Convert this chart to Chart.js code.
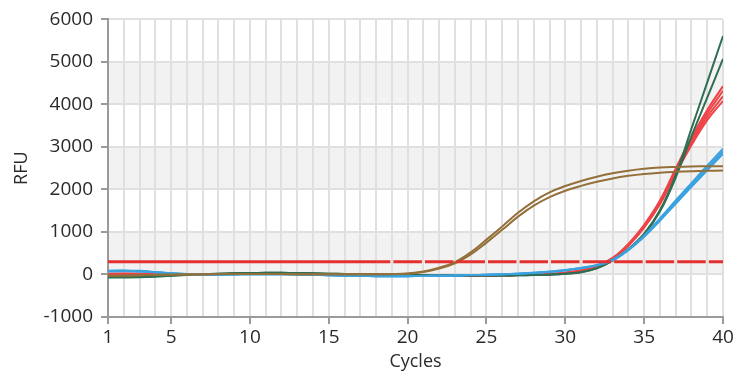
<!DOCTYPE html>
<html><head><meta charset="utf-8">
<script src="https://cdn.jsdelivr.net/npm/chart.js@4.4.1/dist/chart.umd.min.js"></script>
<style>html,body{margin:0;padding:0;background:#fff;}#wrap{width:749px;height:373px;position:relative;}</style>
</head><body><div id="wrap"><canvas id="c" width="749" height="373"></canvas></div>
<script>
const cycles = Array.from({length: 40}, (_, i) => i + 1);
const xTickLabels = [1, 5, 10, 15, 20, 25, 30, 35, 40];
const yTicks = [-1000, 0, 1000, 2000, 3000, 4000, 5000, 6000];
const threshold = 300;

const brown1 = [-30,-25,-20,-10,-5,0,5,10,10,10,10,10,5,5,5,5,5,5,10,25,70,160,290,520,820,1130,1450,1720,1930,2080,2200,2300,2380,2440,2485,2515,2530,2540,2545,2548];
const brown2 = [-30,-25,-20,-10,-5,0,5,10,10,10,10,10,5,5,5,5,5,5,8,20,60,140,260,470,750,1050,1360,1620,1820,1970,2085,2180,2260,2320,2365,2395,2415,2430,2440,2445];

const red1 = [20,25,20,10,5,0,5,10,15,20,20,20,15,10,10,5,0,-5,-10,-15,-20,-20,-25,-25,-25,-20,-15,-5,10,40,100,200,390,720,1170,1740,2490,3220,3870,4430];
const red2 = [10,15,10,5,0,0,5,10,15,20,20,20,15,10,10,5,0,-5,-10,-15,-20,-20,-25,-25,-25,-20,-15,-5,10,38,95,195,380,700,1140,1710,2450,3160,3790,4320];
const red3 = [0,5,5,0,0,0,5,10,15,20,20,20,15,10,10,5,0,-5,-10,-15,-20,-20,-25,-25,-25,-20,-15,-5,5,35,92,190,370,690,1120,1680,2410,3100,3710,4190];
const red4 = [0,0,0,0,0,0,5,10,15,20,20,20,15,10,10,5,0,-5,-10,-15,-20,-20,-25,-25,-25,-20,-15,-5,5,33,90,185,360,675,1100,1650,2370,3040,3630,4080];

const green1 = [-60,-60,-55,-45,-30,-10,5,20,30,35,40,40,35,30,20,10,0,-5,-10,-15,-20,-20,-25,-25,-25,-25,-20,-15,-5,15,55,150,330,600,960,1510,2340,3430,4520,5610];
const green2 = [-70,-70,-65,-50,-30,-10,5,20,30,35,40,40,35,30,20,10,0,-5,-10,-15,-20,-20,-25,-25,-25,-25,-20,-15,-5,15,55,145,325,590,940,1480,2280,3250,4160,5070];

const blue1 = [90,95,85,60,30,10,0,-5,0,5,5,5,0,-10,-20,-30,-35,-40,-40,-40,-35,-30,-25,-15,-5,5,20,40,70,105,155,225,350,590,920,1320,1740,2150,2560,2960];
const blue2 = [80,85,75,55,30,10,0,-5,0,5,5,5,0,-10,-20,-30,-35,-40,-40,-40,-35,-30,-25,-15,-5,5,20,40,65,100,150,220,340,580,900,1290,1700,2100,2500,2900];
const blue3 = [70,75,65,50,25,10,0,-5,0,5,5,5,0,-10,-20,-30,-35,-40,-40,-40,-35,-30,-25,-15,-5,5,20,35,60,95,145,215,335,570,885,1265,1665,2060,2450,2840];

const BROWN = '#93703a', RED = '#ef4348', GREEN = '#2f6e52', BLUE = '#3aa3df';

function curve(data, color) {
  return { data: cycles.map((c, i) => ({x: c, y: data[i]})), borderColor: color, borderWidth: 2,
           pointRadius: 0, tension: 0.4, fill: false, order: 2 };
}

let cycleSpacing = 15.77;
const bands = {
  id: 'bands',
  afterLayout(ch) {
    const x = ch.scales.x;
    cycleSpacing = x.getPixelForValue(2) - x.getPixelForValue(1);
  },
  beforeDraw(ch) {
    const {ctx, chartArea: a, scales: {y}} = ch;
    ctx.save();
    ctx.fillStyle = '#f2f2f2';
    [[0, 1000], [2000, 3000], [4000, 5000]].forEach(([lo, hi]) => {
      const t = y.getPixelForValue(hi), b = y.getPixelForValue(lo);
      ctx.fillRect(a.left, t, a.right - a.left, b - t);
    });
    ctx.restore();
  }
};

const datasets = [
  curve(brown1, BROWN), curve(brown2, BROWN),
  curve(blue1, BLUE), curve(blue2, BLUE), curve(blue3, BLUE),
  curve(green1, GREEN), curve(green2, GREEN),
  curve(red1, RED), curve(red2, RED), curve(red3, RED), curve(red4, RED),
  { data: cycles.map(c => ({x: c, y: threshold})), borderColor: '#e2312f', borderWidth: 3, pointRadius: 0, order: 1,
    segment: {
      borderDash: ctx => ctx.p0DataIndex >= 17 ? [2 * cycleSpacing - 3, 3] : [],
      borderDashOffset: ctx => ctx.p0DataIndex >= 17 ? cycleSpacing - 1.5 : 0
    } }
];

const font = {family: "'Open Sans', sans-serif", size: 19};
new Chart(document.getElementById('c'), {
  type: 'line',
  data: { datasets },
  plugins: [bands],
  options: {
    responsive: false, animation: false, devicePixelRatio: 1,
    layout: { padding: {top: 17, right: 26, left: 0, bottom: 0} },
    plugins: { legend: {display: false}, tooltip: {enabled: false} },
    scales: {
      x: {
        type: 'linear', min: 1, max: 40,
        afterBuildTicks: s => { s.ticks = cycles.map(v => ({value: v})); },
        afterFit: s => { s.height = 56; },
        ticks: { autoSkip: false, maxRotation: 0, font, color: '#2a2a2a', padding: 2,
                 callback: v => xTickLabels.includes(v) ? String(v) : '' },
        grid: { color: '#e0e0e0', lineWidth: 2, tickLength: 7,
                tickColor: c => xTickLabels.includes(c.tick && c.tick.value) ? '#9a9a9a' : 'rgba(0,0,0,0)' },
        border: { color: '#9a9a9a', width: 2 },
        title: { display: true, text: 'Cycles', font: {family: font.family, size: 18}, color: '#2a2a2a', padding: {top: 0, bottom: 0} }
      },
      y: {
        min: -1000, max: 6000,
        afterBuildTicks: s => { s.ticks = yTicks.map(v => ({value: v})); },
        afterFit: s => { s.width = 108; },
        ticks: { font, color: '#2a2a2a', padding: 8, callback: v => String(v) },
        grid: { color: '#e0e0e0', lineWidth: 2, tickLength: 7, tickColor: '#9a9a9a' },
        border: { color: '#9a9a9a', width: 2 },
        title: { display: true, text: 'RFU', font: {family: font.family, size: 18}, color: '#2a2a2a', padding: {top: 11, bottom: 0} }
      }
    }
  }
});
</script></body></html>
